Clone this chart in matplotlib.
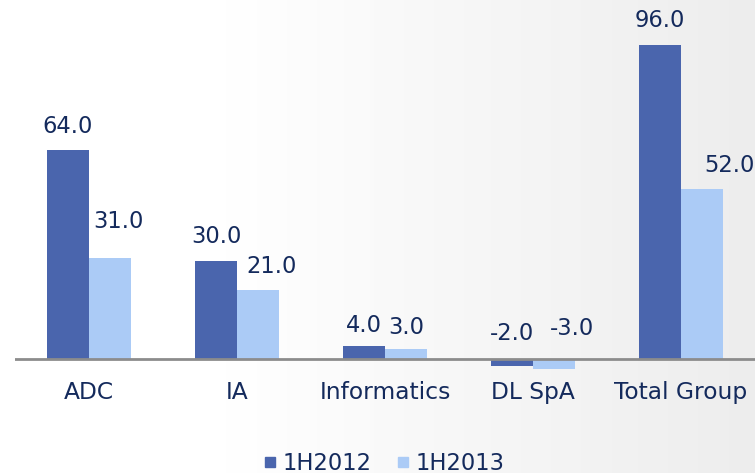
import matplotlib
matplotlib.use("Agg")
import matplotlib.pyplot as plt
import numpy as np
from matplotlib.lines import Line2D

categories = ["ADC", "IA", "Informatics", "DL SpA", "Total Group"]
series_names = ["1H2012", "1H2013"]
values_2012 = [64.0, 30.0, 4.0, -2.0, 96.0]
values_2013 = [31.0, 21.0, 3.0, -3.0, 52.0]

# label placement (pixels): horizontal shift, baseline height above max(bar top, 0)
label_dx_2012 = [0, 0, 0, 0, 0]
label_dy_2012 = [17, 18, 14, 19, 18]
label_dx_2013 = [8, 14, 0, 18, 27]
label_dy_2013 = [30, 17, 15, 24, 17]

c_dark = "#4A65AD"
c_light = "#ABCBF6"
txt = "#142A5C"

W, H = 755, 473
fig = plt.figure(figsize=(W / 100, H / 100), dpi=100)
fig.patch.set_facecolor("white")

# subtle light background fading to the right
bg = fig.add_axes([0, 0, 1, 1], zorder=-10)
grad = np.linspace(0, 1, 200)
grad = np.clip((grad - 0.3) / 0.7, 0, 1)
img = np.ones((2, 200, 3))
shade = 1 - 0.07 * grad
for k in range(3):
    img[:, :, k] = shade
bg.imshow(img, aspect="auto", extent=[0, 1, 0, 1])
bg.set_axis_off()

scale = 314 / 96.0  # px per unit
zero_px = 359
ymin = -5
bottom_px = zero_px + (-ymin) * scale
ax = fig.add_axes([15 / W, 1 - bottom_px / H, 1 - 15 / W, bottom_px / H])
ax.patch.set_alpha(0)
ax.set_xlim(-0.5, 4.5)
ax.set_ylim(ymin, zero_px / scale)

x = np.arange(len(categories))
bw = 42 / 148.0
ax.bar(x - bw / 2, values_2012, bw, color=c_dark, zorder=2)
ax.bar(x + bw / 2, values_2013, bw, color=c_light, zorder=2)

pt = 72 / 100.0
for xs, vals, dxs, dys in ((x - bw / 2, values_2012, label_dx_2012, label_dy_2012),
                           (x + bw / 2, values_2013, label_dx_2013, label_dy_2013)):
    for xi, v, dx, dy in zip(xs, vals, dxs, dys):
        ax.annotate(f"{v:.1f}", (xi, max(v, 0)), xytext=(dx * pt, dy * pt),
                    textcoords="offset points", ha="center", va="baseline",
                    fontsize=16.3, color=txt, annotation_clip=False)

ax.axhline(0, color="#8C8C8C", lw=2, zorder=3)
for s in ax.spines.values():
    s.set_visible(False)
ax.set_yticks([])
ax.set_xticks(x)
ax.set_xticklabels(categories, fontsize=16.8, color=txt)
ax.tick_params(axis="x", length=0, pad=4)

handles = [Line2D([], [], marker="s", linestyle="none", markersize=7.5, color=c)
           for c in (c_dark, c_light)]
leg = fig.legend(handles, series_names, loc="center", bbox_to_anchor=(384 / W, 1 - 463 / H),
                 ncol=2, frameon=False, fontsize=16.3, handlelength=0.6, handletextpad=0.25,
                 columnspacing=1.1, borderaxespad=0)
for t in leg.get_texts():
    t.set_color(txt)

fig.savefig("out.png", dpi=100)
